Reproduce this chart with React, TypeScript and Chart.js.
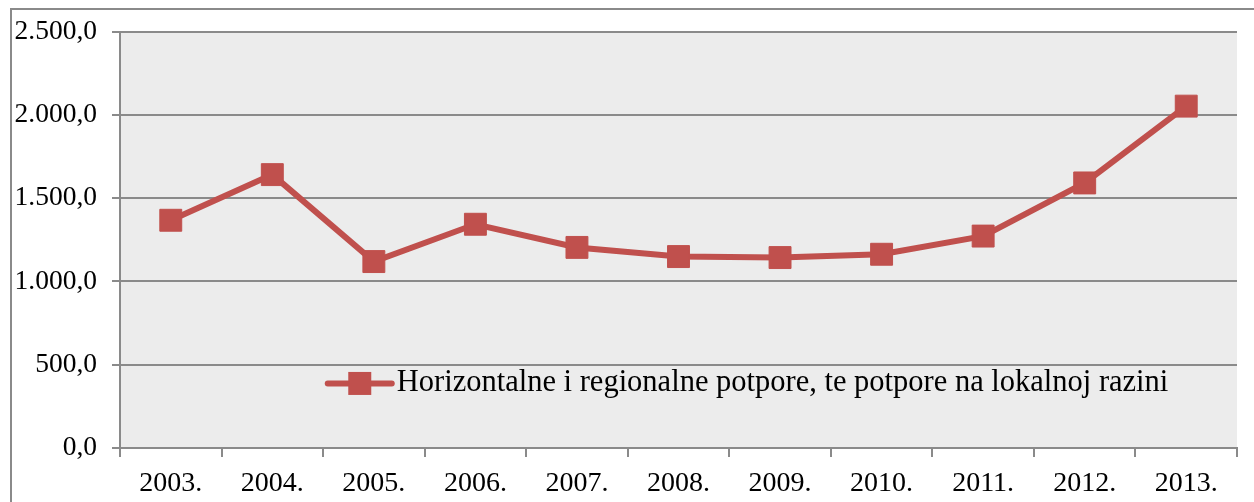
import React, { useEffect, useRef } from 'react';
import { Chart, registerables } from 'chart.js';

Chart.register(...registerables);

const categories = ['2003.', '2004.', '2005.', '2006.', '2007.', '2008.', '2009.', '2010.', '2011.', '2012.', '2013.'];
const values = [1367, 1641, 1119, 1343, 1204, 1149, 1143, 1163, 1272, 1591, 2052];
const yMin = 0;
const yMax = 2500;
const yStep = 500;
const seriesLabel = 'Horizontalne i regionalne potpore, te potpore na lokalnoj razini';

const RED = '#C0504D';
const GRID = '#8A8A8A';
const PLOT_BG = '#ECECEC';
const FONT = "'Liberation Serif', 'Times New Roman', serif";

function fmt(v: number): string {
  const s = Math.round(v).toString().replace(/\B(?=(\d{3})+(?!\d))/g, '.');
  return s + ',0';
}

const bgPlugin = {
  id: 'bgPlugin',
  beforeDraw(chart: any) {
    const { ctx, chartArea: a, width, height } = chart;
    ctx.save();
    ctx.fillStyle = '#ffffff';
    ctx.fillRect(0, 0, width, height);
    ctx.strokeStyle = GRID;
    ctx.lineWidth = 2;
    ctx.beginPath();
    ctx.moveTo(11, height + 2);
    ctx.lineTo(11, 9);
    ctx.lineTo(width + 2, 9);
    ctx.stroke();
    ctx.fillStyle = PLOT_BG;
    ctx.fillRect(a.left, a.top, a.right - a.left, a.bottom - a.top);
    ctx.restore();
  },
};

const legendPlugin = {
  id: 'inLegend',
  afterDatasetsDraw(chart: any) {
    const { ctx, chartArea: a } = chart;
    const w = a.right - a.left;
    const h = a.bottom - a.top;
    const x0 = a.left + w * 0.186;
    const cy = a.top + h * 0.845;
    ctx.save();
    ctx.strokeStyle = RED;
    ctx.lineWidth = 6;
    ctx.lineCap = 'round';
    ctx.beginPath();
    ctx.moveTo(x0, cy);
    ctx.lineTo(x0 + 64, cy);
    ctx.stroke();
    ctx.fillStyle = RED;
    ctx.fillRect(x0 + 32 - 11.5, cy - 11.5, 23, 23);
    ctx.fillStyle = '#000';
    ctx.font = `30.5px ${FONT}`;
    ctx.textBaseline = 'middle';
    ctx.textAlign = 'left';
    ctx.fillText(seriesLabel, x0 + 69, cy);
    ctx.restore();
  },
};

export default function App() {
  const ref = useRef<HTMLCanvasElement | null>(null);
  useEffect(() => {
    if (!ref.current) return;
    const chart = new Chart(ref.current, {
      type: 'line',
      data: {
        labels: categories,
        datasets: [
          {
            label: seriesLabel,
            data: values,
            borderColor: RED,
            backgroundColor: RED,
            borderWidth: 6,
            pointStyle: 'rect',
            pointRadius: 15.5,
            pointBorderWidth: 1,
            pointBorderColor: RED,
            pointBackgroundColor: RED,
            tension: 0,
          },
        ],
      },
      options: {
        animation: false,
        responsive: false,
        maintainAspectRatio: false,
        devicePixelRatio: 1,
        layout: { padding: { top: 28, right: 17, bottom: 0, left: 0 } },
        plugins: {
          legend: { display: false },
          tooltip: { enabled: false },
        },
        scales: {
          x: {
            offset: true,
            grid: {
              offset: true,
              drawOnChartArea: false,
              drawTicks: true,
              tickLength: 9,
              color: GRID,
              lineWidth: 2,
            },
            border: { display: true, color: GRID, width: 2 },
            ticks: {
              color: '#000',
              font: { family: FONT, size: 28 },
              padding: 10,
              maxRotation: 0,
              autoSkip: false,
            },
            afterFit: (s: any) => {
              s.height = 54;
            },
          },
          y: {
            min: yMin,
            max: yMax,
            grid: {
              color: GRID,
              lineWidth: 2,
              drawTicks: true,
              tickLength: 8,
            },
            border: { display: true, color: GRID, width: 2 },
            ticks: {
              stepSize: yStep,
              color: '#000',
              font: { family: FONT, size: 27.5 },
              padding: 15,
              callback: (v: any) => fmt(Number(v)),
            },
            afterFit: (s: any) => {
              s.width = 120;
            },
          },
        },
      },
      plugins: [bgPlugin, legendPlugin],
    });
    return () => chart.destroy();
  }, []);
  return (
    <div style={{ position: 'fixed', left: 0, top: 0, width: 1254, height: 502 }}>
      <canvas ref={ref} width={1254} height={502} style={{ width: 1254, height: 502, display: 'block' }} />
    </div>
  );
}
